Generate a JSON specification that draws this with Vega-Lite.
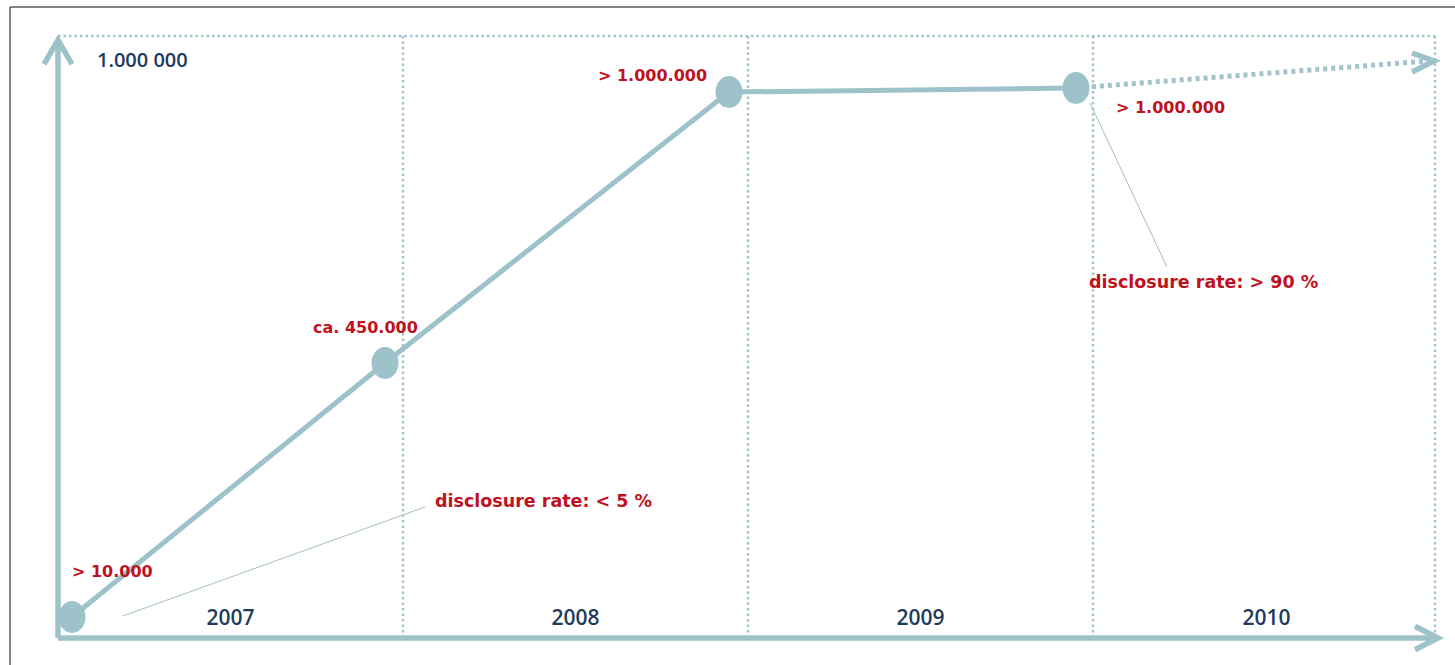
{
  "$schema": "https://vega.github.io/schema/vega-lite/v6.json",
  "width": 1455,
  "height": 665,
  "padding": 0,
  "autosize": {"type": "none"},
  "background": "white",
  "config": {"view": {"stroke": null}},
  "datasets": {
    "border": [
      {"seg": "top", "ord": 1, "t": 2006.8609, "v": 1157.8},
      {"seg": "top", "ord": 2, "t": 2011.0638, "v": 1157.8},
      {"seg": "left", "ord": 1, "t": 2006.8609, "v": 1157.8},
      {"seg": "left", "ord": 2, "t": 2006.8609, "v": -58.7}
    ],
    "grid": [
      {"t": 2007.0, "v": 1104.6, "t2": 2010.9913, "v2": 1104.6},
      {"t": 2008.0, "v": 0, "t2": 2008.0, "v2": 1104.6},
      {"t": 2009.0, "v": 0, "t2": 2009.0, "v2": 1104.6},
      {"t": 2010.0, "v": 0, "t2": 2010.0, "v2": 1104.6},
      {"t": 2010.9913, "v": 0, "t2": 2010.9913, "v2": 1104.6}
    ],
    "axes": [
      {"seg": "yaxis", "ord": 1, "t": 2007.0, "v": 0},
      {"seg": "yaxis", "ord": 2, "t": 2007.0, "v": 1093.6},
      {"seg": "yhead", "ord": 1, "t": 2006.9594, "v": 1053.0},
      {"seg": "yhead", "ord": 2, "t": 2007.0, "v": 1097.2},
      {"seg": "yhead", "ord": 3, "t": 2007.0406, "v": 1053.0},
      {"seg": "xaxis", "ord": 1, "t": 2007.0, "v": 0},
      {"seg": "xaxis", "ord": 2, "t": 2010.9942, "v": 0},
      {"seg": "xhead", "ord": 1, "t": 2010.9333, "v": 21.5},
      {"seg": "xhead", "ord": 2, "t": 2011.0, "v": 0},
      {"seg": "xhead", "ord": 3, "t": 2010.9333, "v": -21.5},
      {"seg": "ehead", "ord": 1, "t": 2010.9246, "v": 1073.4},
      {"seg": "ehead", "ord": 2, "t": 2010.9884, "v": 1058.7},
      {"seg": "ehead", "ord": 3, "t": 2010.9246, "v": 1038.5}
    ],
    "series": [
      {"ord": 1, "t": 2007.0406, "v": 38.5},
      {"ord": 2, "t": 2007.9478, "v": 504.6},
      {"ord": 3, "t": 2008.9449, "v": 1001.8},
      {"ord": 4, "t": 2009.9507, "v": 1009.2}
    ],
    "trend": [
      {"t": 2009.9507, "v": 1009.2, "t2": 2010.9700, "v2": 1058.7}
    ],
    "leaders": [
      {"t": 2007.1884, "v": 40.4, "t2": 2008.0638, "v2": 240.4},
      {"t": 2009.9913, "v": 981.7, "t2": 2010.2145, "v2": 680.7}
    ],
    "redlabels": [
      {"label": "> 10.000", "t": 2007.0406, "v": 111.9},
      {"label": "ca. 450.000", "t": 2007.7391, "v": 559.6},
      {"label": "> 1.000.000", "t": 2008.5652, "v": 1022.0},
      {"label": "> 1.000.000", "t": 2010.0667, "v": 963.3}
    ],
    "ratelabels": [
      {"label": "disclosure rate: > 90 %", "t": 2009.9884, "v": 642.2},
      {"label": "disclosure rate: < 5 %", "t": 2008.0928, "v": 240.4}
    ],
    "ylabel": [
      {"label": "1.000 000", "t": 2007.113, "v": 1047.7}
    ],
    "years": [
      {"label": "2007", "t": 2007.5, "v": 23.85},
      {"label": "2008", "t": 2008.5, "v": 23.85},
      {"label": "2009", "t": 2009.5, "v": 23.85},
      {"label": "2010", "t": 2010.503, "v": 23.85}
    ]
  },
  "encoding": {
    "x": {"field": "t", "type": "quantitative", "scale": {"domain": [2006.8319, 2011.0493], "nice": false, "zero": false}, "axis": null},
    "y": {"field": "v", "type": "quantitative", "scale": {"domain": [-49.54, 1170.64], "nice": false, "zero": false}, "axis": null}
  },
  "layer": [
    {
      "data": {"name": "border"},
      "mark": {"type": "line", "color": "#5a5a5a", "strokeWidth": 1.5},
      "encoding": {"detail": {"field": "seg"}, "order": {"field": "ord"}}
    },
    {
      "data": {"name": "grid"},
      "mark": {"type": "rule", "color": "#a6c4cd", "strokeWidth": 2.5, "strokeDash": [2.5, 3]},
      "encoding": {"x2": {"field": "t2"}, "y2": {"field": "v2"}}
    },
    {
      "data": {"name": "leaders"},
      "mark": {"type": "rule", "color": "#a3bec6", "strokeWidth": 1},
      "encoding": {"x2": {"field": "t2"}, "y2": {"field": "v2"}}
    },
    {
      "data": {"name": "trend"},
      "mark": {"type": "rule", "color": "#a3c4cb", "strokeWidth": 5, "strokeDash": [4, 4]},
      "encoding": {"x2": {"field": "t2"}, "y2": {"field": "v2"}}
    },
    {
      "data": {"name": "axes"},
      "mark": {"type": "line", "color": "#9dc2c9", "strokeWidth": 5.5, "strokeJoin": "miter", "strokeCap": "butt"},
      "encoding": {"detail": {"field": "seg"}, "order": {"field": "ord"}}
    },
    {
      "data": {"name": "series"},
      "mark": {"type": "line", "color": "#9dc2c9", "strokeWidth": 5},
      "encoding": {"order": {"field": "ord"}}
    },
    {
      "data": {"name": "series"},
      "mark": {"type": "point", "filled": true, "opacity": 1, "color": "#9dc2c9", "size": 729, "shape": "M -1 0 C -1 -0.6517 -0.5523 -1.18 0 -1.18 C 0.5523 -1.18 1 -0.6517 1 0 C 1 0.6517 0.5523 1.18 0 1.18 C -0.5523 1.18 -1 0.6517 -1 0 Z"}
    },
    {
      "data": {"name": "redlabels"},
      "mark": {"type": "text", "align": "left", "baseline": "alphabetic", "font": "DejaVu Sans", "fontWeight": "bold", "fontSize": 16, "color": "#c0121e"},
      "encoding": {"text": {"field": "label"}}
    },
    {
      "data": {"name": "ratelabels"},
      "mark": {"type": "text", "align": "left", "baseline": "alphabetic", "font": "DejaVu Sans", "fontWeight": "bold", "fontSize": 17.5, "color": "#c0121e"},
      "encoding": {"text": {"field": "label"}}
    },
    {
      "data": {"name": "ylabel"},
      "mark": {"type": "text", "align": "left", "baseline": "alphabetic", "font": "Open Sans", "fontWeight": 600, "fontSize": 20, "color": "#1f3b5c"},
      "encoding": {"text": {"field": "label"}}
    },
    {
      "data": {"name": "years"},
      "mark": {"type": "text", "align": "center", "baseline": "alphabetic", "font": "Open Sans", "fontWeight": 600, "fontSize": 21, "color": "#1f3b5c"},
      "encoding": {"text": {"field": "label"}}
    }
  ]
}
